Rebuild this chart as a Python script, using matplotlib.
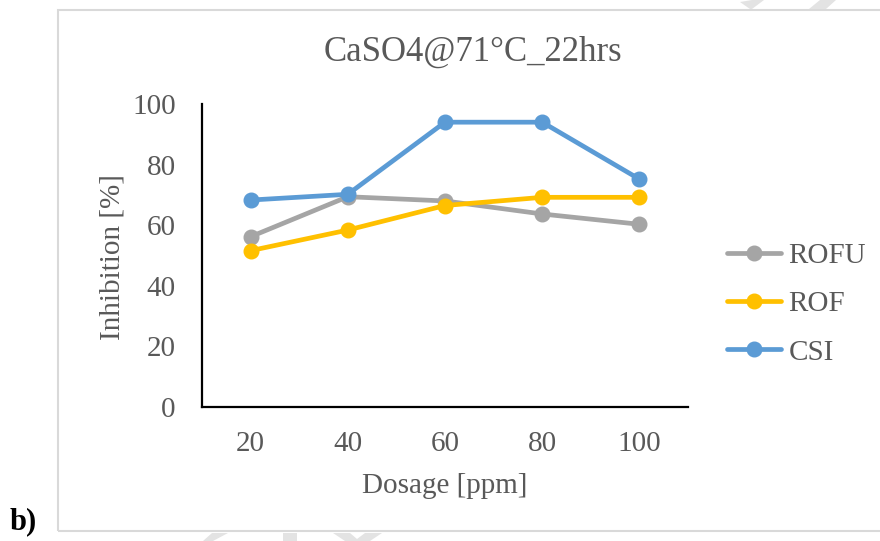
import matplotlib.pyplot as plt
from matplotlib.patches import Rectangle, Polygon
import numpy as np

dosage = ["20", "40", "60", "80", "100"]
rofu = [56.2, 69.4, 68.0, 63.7, 60.3]
rof = [51.6, 58.4, 66.5, 69.2, 69.2]
csi = [68.3, 70.2, 94.0, 94.0, 75.2]

series = [("ROFU", rofu, "#A5A5A5"),
          ("ROF", rof, "#FFC000"),
          ("CSI", csi, "#5B9BD5")]

plt.rcParams['font.family'] = ['Liberation Serif', 'DejaVu Serif']
txt = "#595959"
fs = 21
W, H = 880, 541

fig = plt.figure(figsize=(W / 100, H / 100), dpi=100)

def px(x0, y0, x1, y1):
    # pixel box -> figure fraction rect
    return [x0 / W, 1 - y1 / H, (x1 - x0) / W, (y1 - y0) / H]

# chart frame
fig.patches.append(Rectangle((58 / W, 1 - 531 / H), (W + 5 - 58) / W, (531 - 10) / H,
                             transform=fig.transFigure, fill=False,
                             edgecolor="#d9d9d9", linewidth=1.5))

# faint watermark strokes peeking past the frame
wm = [[(752, 0), (764, 0), (752, 9), (762, 9), (750, 9), (740, 2)],
      [(820, 0), (836, 0), (826, 9), (809, 9)],
      [(213, 541), (203, 541), (212, 533), (228, 533)],
      [(283, 541), (297, 541), (297, 533), (283, 533)],
      [(333, 533), (350, 533), (357, 539), (365, 533), (382, 533), (370, 541), (345, 541)]]
for pts in wm:
    fig.patches.append(Polygon([(x / W, 1 - y / H) for x, y in pts], closed=True,
                               transform=fig.transFigure, facecolor="#e3e3e3",
                               edgecolor="none"))

ax = fig.add_axes(px(202, 104, 688, 407))
x = np.arange(len(dosage))
for name, vals, col in series:
    ax.plot(x, vals, color=col, linewidth=3.4, marker="o", markersize=10.5,
            solid_capstyle="round", label=name)

ax.set_xlim(-0.5, len(dosage) - 0.5)
ax.set_ylim(0, 100)
ax.set_yticks(np.arange(0, 101, 20))
ax.set_xticks(x)
ax.set_xticklabels(dosage)
ax.tick_params(axis="both", length=0, labelsize=fs, labelcolor=txt)
ax.tick_params(axis="y", pad=19)
ax.tick_params(axis="x", pad=17)
for s in ["top", "right"]:
    ax.spines[s].set_visible(False)
for s in ["left", "bottom"]:
    ax.spines[s].set_linewidth(1.6)
    ax.spines[s].set_color("black")

fig.text(473 / W, 1 - 52 / H, "CaSO4@71\u00b0C_22hrs", ha="center", va="center",
         fontsize=25, color=txt)
fig.text(112 / W, 1 - 257 / H, "Inhibition [%]", ha="center", va="center",
         rotation=90, fontsize=fs, color=txt)
fig.text(445 / W, 1 - 486 / H, "Dosage [ppm]", ha="center", va="center",
         fontsize=fs, color=txt)
fig.text(10 / W, 1 - 522 / H, "b)", ha="left", va="center", fontsize=22,
         fontweight="bold", color="black")

leg = fig.legend(loc="center left", bbox_to_anchor=(727 / W, 1 - 304 / H),
                 frameon=False, fontsize=fs, handlelength=1.85,
                 handletextpad=0.25, labelspacing=0.75, borderpad=0,
                 borderaxespad=0)
for t in leg.get_texts():
    t.set_color(txt)

fig.savefig("out.png", dpi=100)
